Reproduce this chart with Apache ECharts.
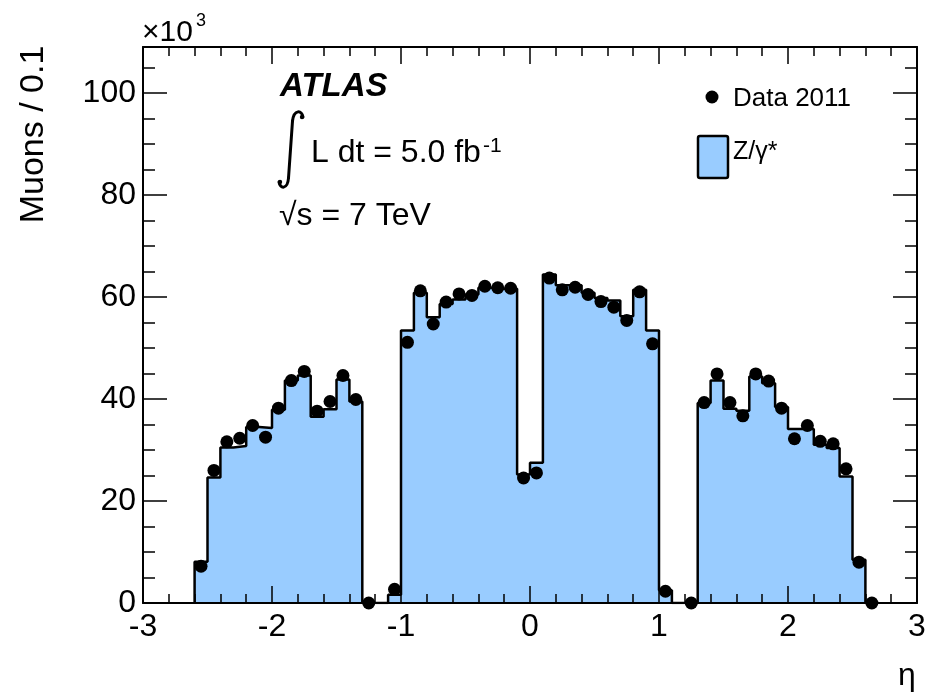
<!DOCTYPE html>
<html><head><meta charset="utf-8">
<script src="https://cdn.jsdelivr.net/npm/echarts@6/dist/echarts.min.js"></script>
<style>html,body{margin:0;padding:0;background:#fff}#c{width:929px;height:696px}</style>
</head><body><div id="c"></div>
<script>
// eta bin centres (bin width 0.1)
const binCenters = [-2.55,-2.45,-2.35,-2.25,-2.15,-2.05,-1.95,-1.85,-1.75,-1.65,-1.55,-1.45,-1.35,-1.25,-1.15,-1.05,
  -0.95,-0.85,-0.75,-0.65,-0.55,-0.45,-0.35,-0.25,-0.15,-0.05,0.05,0.15,0.25,0.35,0.45,0.55,0.65,0.75,0.85,0.95,
  1.05,1.15,1.25,1.35,1.45,1.55,1.65,1.75,1.85,1.95,2.05,2.15,2.25,2.35,2.45,2.55,2.65];
const binWidth = 0.1;
// Z/gamma* simulation (x10^3 muons / 0.1)
const mcValues = [8.1,24.6,30.5,30.8,34.5,34.3,37.9,43.6,44.6,36.5,38.0,43.8,39.5,
  0,0,1.6,
  53.4,60.8,56.0,58.6,59.5,60.5,61.8,61.6,61.6,
  25.2,27.5,
  64.4,62.3,62.3,60.8,59.8,59.3,56.2,61.4,53.4,
  2.5,0,0,
  39.2,43.6,38.1,37.7,44.4,43.1,38.4,34.1,34.1,31.0,30.4,24.8,8.5,
  0];
// Data 2011 (x10^3 muons / 0.1)
const dataValues = [7.2,26.0,31.6,32.3,34.8,32.5,38.2,43.6,45.4,37.6,39.5,44.6,39.9,
  0,null,2.7,
  51.1,61.2,54.7,59.0,60.6,60.3,62.1,61.8,61.7,
  24.5,25.5,
  63.7,61.4,61.9,60.5,59.1,58.0,55.4,61.0,50.8,
  2.3,null,0,
  39.3,44.9,39.3,36.7,44.9,43.5,38.2,32.2,34.8,31.7,31.2,26.3,8.0,
  0];
const xTickLabels = [-3,-2,-1,0,1,2,3];
const yTickLabels = [0,20,40,60,80,100];
const xRange = [-3, 3];
const yRange = [0, 109];

const FONT = '"Liberation Sans", Arial, Helvetica, sans-serif';

// histogram outline points (bin low edges, stepped)
const histPts = [[binCenters[0] - binWidth/2, 0]];
binCenters.forEach((c, i) => histPts.push([c - binWidth/2, mcValues[i]]));
histPts.push([binCenters[binCenters.length-1] + binWidth/2, 0]);
const dataPts = [];
binCenters.forEach((c, i) => { if (dataValues[i] !== null) dataPts.push([c, dataValues[i]]); });

function xAx(pos, interval, len, labels, line) {
  return {
    type: 'value', position: pos, min: xRange[0], max: xRange[1], interval: interval, z: 3,
    axisLine: { show: line, onZero: false, lineStyle: { color: '#000', width: 2 } },
    axisTick: { show: true, inside: true, length: len, lineStyle: { color: '#000', width: 1.5 } },
    axisLabel: labels ? { show: true, color: '#000', fontSize: 32, fontFamily: FONT, margin: 8,
      showMinLabel: true, showMaxLabel: true, customValues: xTickLabels } : { show: false },
    splitLine: { show: false }
  };
}
function yAx(pos, interval, len, labels, line) {
  return {
    type: 'value', position: pos, min: yRange[0], max: yRange[1], interval: interval, z: 3,
    axisLine: { show: line, onZero: false, lineStyle: { color: '#000', width: 2 } },
    axisTick: { show: true, inside: true, length: len, lineStyle: { color: '#000', width: 1.5 } },
    axisLabel: labels ? { show: true, color: '#000', fontSize: 32, fontFamily: FONT, margin: 7,
      showMinLabel: true, showMaxLabel: true, customValues: yTickLabels } : { show: false },
    splitLine: { show: false }
  };
}

function txt(s, x, y, font, align) {
  return { type: 'text', x: x, y: y, z: 10,
    style: { text: s, font: font, fill: '#000', textAlign: align || 'left', textVerticalAlign: 'middle',
      align: align || 'left', verticalAlign: 'middle' } };
}
const intStroke = { fill: null, stroke: '#000', lineWidth: 3, lineCap: 'round' };

const chart = echarts.init(document.getElementById('c'), null, { renderer: 'canvas' });
chart.setOption({
  animation: false,
  backgroundColor: '#fff',
  grid: { left: 143, right: 12, top: 47, bottom: 93, containLabel: false, outerBoundsMode: 'none' },
  xAxis: [
    xAx('bottom', 1, 17, true, true),
    xAx('bottom', 0.2, 9, false, false),
    xAx('top', 1, 17, false, true),
    xAx('top', 0.2, 9, false, false)
  ],
  yAxis: [
    yAx('left', 20, 24, true, true),
    yAx('left', 5, 12, false, false),
    yAx('right', 20, 24, false, true),
    yAx('right', 5, 12, false, false)
  ],
  series: [
    {
      name: 'Z/γ*', type: 'line', xAxisIndex: 0, yAxisIndex: 0, data: histPts, step: 'end',
      symbol: 'none', z: 2,
      lineStyle: { color: '#000', width: 2.5 },
      areaStyle: { color: '#99ccff', opacity: 1, origin: 'start' }
    },
    {
      name: 'Data 2011', type: 'scatter', xAxisIndex: 0, yAxisIndex: 0, data: dataPts,
      symbol: 'circle', symbolSize: 13, z: 4,
      itemStyle: { color: '#000', opacity: 1 }
    }
  ],
  graphic: { elements: [
    { type: 'text', x: 34, y: 134.5, rotation: Math.PI/2, z: 10,
      style: { text: 'Muons / 0.1', font: '34px ' + FONT, fill: '#000', textAlign: 'center', textVerticalAlign: 'middle', align: 'center', verticalAlign: 'middle' } },
    txt('η', 907, 676, '32px ' + FONT, 'center'),
    txt('×10', 142, 33, '30px ' + FONT),
    txt('3', 196, 21, '18px ' + FONT),
    txt('ATLAS', 280, 87, 'italic bold 33px ' + FONT),
    { type: 'bezierCurve', z: 10,
      shape: { x1: 303, y1: 117, cpx1: 302, cpy1: 110, cpx2: 294, cpy2: 109, x2: 292.5, y2: 121 }, style: intStroke },
    { type: 'line', z: 10, shape: { x1: 292.5, y1: 121, x2: 288.5, y2: 178 }, style: intStroke },
    { type: 'bezierCurve', z: 10,
      shape: { x1: 288.5, y1: 178, cpx1: 287.5, cpy1: 190, cpx2: 280, cpy2: 189, x2: 279, y2: 182 }, style: intStroke },
    { type: 'circle', z: 10, shape: { cx: 302, cy: 117, r: 2.2 }, style: { fill: '#000' } },
    { type: 'circle', z: 10, shape: { cx: 280, cy: 182, r: 2.2 }, style: { fill: '#000' } },
    txt('L dt = 5.0 fb', 311, 153, '32px ' + FONT),
    txt('-1', 483, 146, '21px ' + FONT),
    txt('√s = 7 TeV', 279, 216, '32px ' + FONT),
    { type: 'circle', z: 10, shape: { cx: 712, cy: 97, r: 6.5 }, style: { fill: '#000' } },
    txt('Data 2011', 733, 99, '26px ' + FONT),
    { type: 'rect', z: 10, shape: { x: 698, y: 136, width: 30, height: 42, r: 2 }, style: { fill: '#99ccff', stroke: '#000', lineWidth: 2.5 } },
    txt('Z/γ*', 733, 152, '25px ' + FONT)
  ] }
});
</script></body></html>
